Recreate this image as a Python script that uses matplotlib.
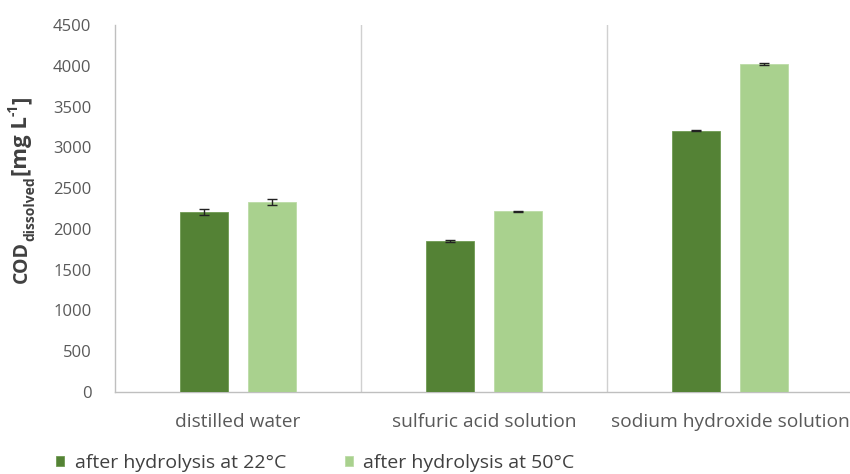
import matplotlib
matplotlib.use("Agg")
import matplotlib.pyplot as plt
import numpy as np

categories = ["distilled water", "sulfuric acid solution", "sodium hydroxide solution"]
series_names = ["after hydrolysis at 22°C", "after hydrolysis at 50°C"]
cod_22 = [2205, 1850, 3205]
cod_50 = [2330, 2215, 4020]
err_22 = [40, 8, 8]
err_50 = [35, 8, 8]
colors = ["#548235", "#A9D18E"]

plt.rcParams["font.family"] = ["Open Sans", "DejaVu Sans"]

W, H = 850, 474
fig = plt.figure(figsize=(W / 100, H / 100), dpi=100)
ax = fig.add_axes([115 / W, 1 - 392 / H, 738 / W, 367 / H])

x = np.arange(len(categories))
w = 0.195
gap = 0.085
ekw = dict(ecolor="#222222", elinewidth=1, capthick=1)
ax.bar(x - (w + gap) / 2, cod_22, w, color=colors[0], edgecolor="#6f9a52", linewidth=0.6,
       yerr=err_22, capsize=3.5, error_kw=ekw, label=series_names[0], zorder=3)
ax.bar(x + (w + gap) / 2, cod_50, w, color=colors[1], edgecolor="#bcdca6", linewidth=0.6,
       yerr=err_50, capsize=3.5, error_kw=ekw, label=series_names[1], zorder=3)

ax.set_xlim(-0.5, len(categories) - 0.5)
ax.set_ylim(0, 4500)
ax.set_yticks(np.arange(0, 4501, 500))
ax.set_xticks(x)
ax.set_xticklabels(categories)
for sep in x[:-1] + 0.5:
    ax.axvline(sep, color="#d0d0d0", linewidth=1, zorder=1)

for s in ["top", "right"]:
    ax.spines[s].set_visible(False)
for s in ["left", "bottom"]:
    ax.spines[s].set_color("#bfbfbf")
    ax.spines[s].set_linewidth(1)
ax.tick_params(axis="both", length=0, colors="#595959")
ax.tick_params(axis="y", labelsize=12, pad=17)
ax.tick_params(axis="x", labelsize=13.8, pad=15)

# y-axis title built from pieces so each part keeps its own size
fig.canvas.draw()
renderer = fig.canvas.get_renderer()
label_color = "#404040"
pieces = [
    ("COD", 14, 22),
    ("dissolved", 10, 30),
    ("[mg L", 16, 21),
    ("-1", 10, 14),
    ("]", 16, 21),
]
y_px = 283
for txt, size, xc in pieces:
    t = fig.text(xc / W, 1 - y_px / H, txt, rotation=90, ha="center", va="bottom",
                 fontsize=size, fontweight="bold", color=label_color)
    bb = t.get_window_extent(renderer)
    y_px = H - bb.y1

fig.legend(loc="center left", bbox_to_anchor=(56 / W, 1 - 463 / H), ncol=2, frameon=False,
           fontsize=14, handlelength=0.42, handleheight=0.42, handletextpad=0.55,
           columnspacing=3.0, borderpad=0, borderaxespad=0, labelcolor=label_color)

fig.savefig("out.png", dpi=100)
